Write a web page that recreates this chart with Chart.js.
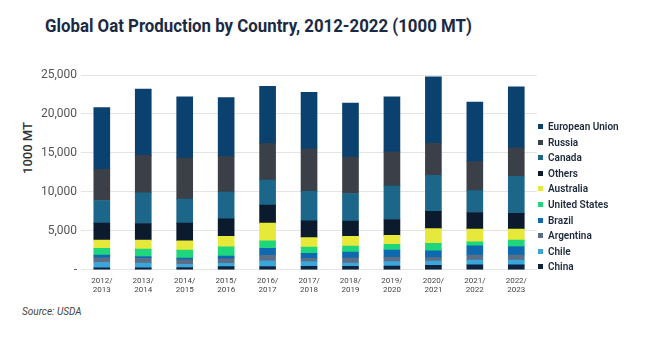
<!DOCTYPE html>
<html>
<head>
<meta charset="utf-8">
<script src="https://cdn.jsdelivr.net/npm/chart.js@4.4.1/dist/chart.umd.min.js"></script>
<style>
  html, body { margin: 0; padding: 0; background: #fff; }
  body { width: 646px; height: 338px; position: relative; overflow: hidden; font-family: Roboto, "Open Sans", sans-serif; }
  #title { position: absolute; left: 45px; top: 14px; font-size: 19px; font-weight: 700; color: #1b2a44; white-space: nowrap; transform-origin: left top; }
  #ytitle { position: absolute; left: 27px; top: 148px; font-size: 13px; font-weight: 500; color: #333; white-space: nowrap; transform: translate(-50%, -50%) rotate(-90deg); }
  #wrap { position: absolute; left: 0; top: 55px; width: 540px; height: 246px; }
  #legend { position: absolute; left: 538px; top: 119px; margin: 0; padding: 0; list-style: none; }
  #legend li { height: 15.6px; line-height: 15.6px; font-size: 10px; font-weight: 600; color: #1d2a3c; white-space: nowrap; }
  #legend span { display: inline-block; width: 5px; height: 5px; margin-right: 5px; vertical-align: 1px; }
  #source { position: absolute; left: 22px; top: 306px; font-size: 10px; font-style: italic; color: #444; }
</style>
</head>
<body>
<div id="title">Global Oat Production by Country, 2012-2022 (1000 MT)</div>
<div id="ytitle">1000 MT</div>
<div id="wrap"><canvas id="oatChart"></canvas></div>
<ul id="legend"></ul>
<div id="source">Source: USDA</div>
<script>
// marketing years
var years = [['2012/', '2013'], ['2013/', '2014'], ['2014/', '2015'], ['2015/', '2016'], ['2016/', '2017'],
             ['2017/', '2018'], ['2018/', '2019'], ['2019/', '2020'], ['2020/', '2021'], ['2021/', '2022'], ['2022/', '2023']];

// production, 1000 MT (bottom to top)
var china        = [250, 250, 300, 400, 420, 450, 450, 480, 580, 640, 640];
var chile        = [690, 600, 385, 420, 720, 600, 420, 560, 550, 600, 600];
var argentina    = [590, 600, 590, 600, 730, 420, 640, 550, 440, 640, 640];
var brazil       = [350, 260, 220, 330, 900, 640, 770, 940, 850, 1190, 1110];
var unitedStates = [860, 940, 1030, 1200, 940, 810, 770, 730, 990, 510, 810];
var australia    = [1060, 1150, 1190, 1360, 2270, 1200, 1240, 1150, 1880, 1630, 1410];
var others       = [2180, 2140, 2270, 2240, 2310, 2180, 1960, 2050, 2220, 2140, 2030];
var canada       = [2910, 3930, 3080, 3420, 3210, 3760, 3540, 4270, 4620, 2820, 4770];
var russia       = [4010, 4820, 5260, 4560, 4700, 5440, 4670, 4410, 4100, 3720, 3630];
var europeanUnion = [7910, 8510, 7860, 7560, 7350, 7260, 6950, 7050, 8550, 7640, 7850];

var series = [
    { label: 'China', data: china, color: '#0d2440' },
    { label: 'Chile', data: chile, color: '#3aa6dc' },
    { label: 'Argentina', data: argentina, color: '#5a6f86' },
    { label: 'Brazil', data: brazil, color: '#0e69b0' },
    { label: 'United States', data: unitedStates, color: '#1fd67c' },
    { label: 'Australia', data: australia, color: '#e6e83a' },
    { label: 'Others', data: others, color: '#0b1a2d' },
    { label: 'Canada', data: canada, color: '#1b6689' },
    { label: 'Russia', data: russia, color: '#3b4048' },
    { label: 'European Union', data: europeanUnion, color: '#0b416e' }
];

// squeeze the title to its width in the picture
var title = document.getElementById('title');
title.style.transform = 'scaleX(' + (427 / title.offsetWidth) + ')';

// legend, top entry = top of the stack
var legend = document.getElementById('legend');
series.slice().reverse().forEach(function(s) {
    var li = document.createElement('li');
    li.innerHTML = '<span style="background:' + s.color + '"></span>' + s.label;
    legend.appendChild(li);
});

var ctx = document.getElementById('oatChart').getContext('2d');
new Chart(ctx, {
    type: 'bar',
    data: {
        labels: years,
        datasets: series.map(function(s) {
            return { label: s.label, data: s.data, backgroundColor: s.color, borderWidth: 0, barThickness: 16 };
        })
    },
    options: {
        responsive: true,
        maintainAspectRatio: false,
        animation: false,
        layout: { padding: { left: 37, right: 3, top: 20, bottom: 0 } },
        plugins: { legend: { display: false }, tooltip: { enabled: false } },
        scales: {
            x: {
                stacked: true,
                grid: { display: false, drawTicks: false },
                border: { display: false },
                ticks: { color: '#444', font: { family: 'Roboto', size: 8 }, padding: 6, maxRotation: 0 }
            },
            y: {
                stacked: true,
                min: 0,
                max: 25000,
                grid: { color: '#e4e4e4', drawTicks: false },
                border: { display: false },
                ticks: {
                    stepSize: 5000,
                    padding: 4,
                    color: '#555',
                    font: { family: 'Roboto', size: 12 },
                    callback: function(v) { return v === 0 ? '-' : v.toLocaleString('en-US'); }
                }
            }
        }
    }
});
</script>
</body>
</html>
